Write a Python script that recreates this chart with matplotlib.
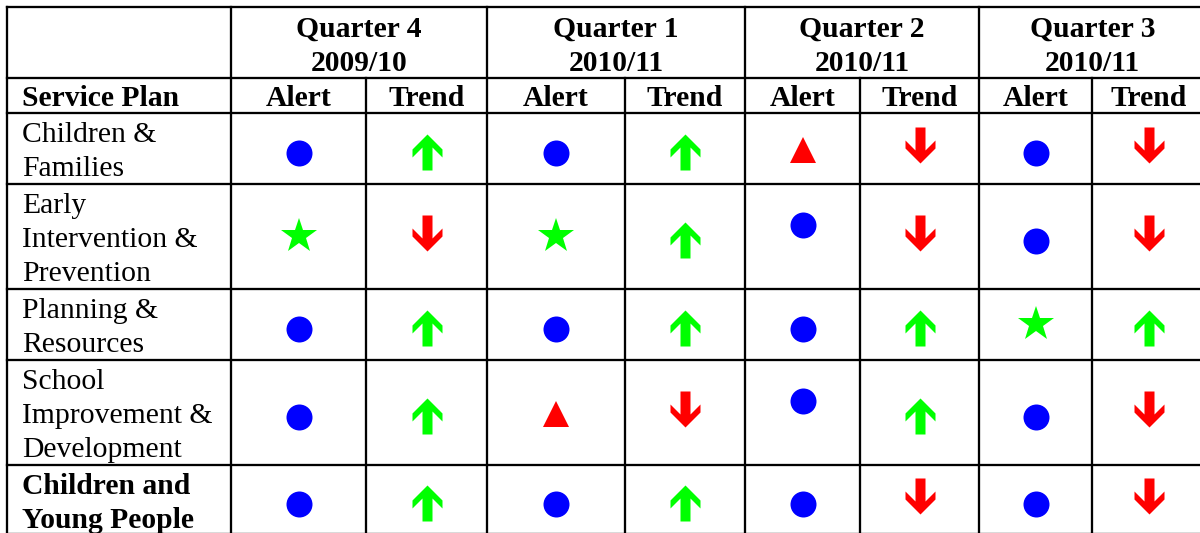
import matplotlib
matplotlib.use("Agg")
import matplotlib.pyplot as plt
from matplotlib.path import Path

# ---------------- data ----------------
services = ["Children &\nFamilies",
            "Early\nIntervention &\nPrevention",
            "Planning &\nResources",
            "School\nImprovement &\nDevelopment",
            "Children and\nYoung People"]
service_bold = [False, False, False, False, True]

quarters = ["Quarter 4\n2009/10", "Quarter 1\n2010/11",
            "Quarter 2\n2010/11", "Quarter 3\n2010/11"]

alert_q4_0910 = ["circle", "star", "circle", "circle", "circle"]
trend_q4_0910 = ["up", "down", "up", "up", "up"]
alert_q1_1011 = ["circle", "star", "circle", "triangle", "circle"]
trend_q1_1011 = ["up", "up", "up", "down", "up"]
alert_q2_1011 = ["triangle", "circle", "circle", "circle", "circle"]
trend_q2_1011 = ["down", "down", "up", "up", "down"]
alert_q3_1011 = ["circle", "circle", "star", "circle", "circle"]
trend_q3_1011 = ["down", "down", "up", "down", "down"]

alerts = [alert_q4_0910, alert_q1_1011, alert_q2_1011, alert_q3_1011]
trends = [trend_q4_0910, trend_q1_1011, trend_q2_1011, trend_q3_1011]

# ---------------- layout / style ----------------
W, H = 1200, 533
col_edges = [7, 231, 366, 487, 625, 745, 860, 979, 1092, 1206]
row_edges = [7, 78, 113, 184, 289, 360, 465, 534]
# cells whose symbol sits near the top of the cell (quarter index, row index)
top_aligned = {(2, 1), (2, 3)}

font = "Liberation Serif"
fs = 21.3
lw = 1.65

# arrow marker paths (pixel units, y up)
up_verts = [(0, 18), (15, 3), (15, -5), (5, 5), (5, -18), (-5, -18),
            (-5, 5), (-15, -5), (-15, 3), (0, 18)]
up_path = Path(up_verts, closed=True)
down_path = Path([(x, -y) for x, y in up_verts], closed=True)
px = 72 / 100.0  # points per pixel

sym_style = {
    "circle":   dict(marker="o", color="#0000FF", ms=26 * px, dy=4.5),
    "star":     dict(marker="*", color="#00FF00", ms=37 * px, dy=-0.5),
    "triangle": dict(marker="^", color="#FF0000", ms=27 * px, dy=1.0),
    "up":       dict(marker=up_path, color="#00FF00", ms=36 * px, dy=3.5),
    "down":     dict(marker=down_path, color="#FF0000", ms=36 * px, dy=-4.0),
}

fig = plt.figure(figsize=(12, 5.33), dpi=100)
ax = fig.add_axes([0, 0, 1, 1])
ax.set_xlim(0, W)
ax.set_ylim(H, 0)
ax.axis("off")

# grid lines
for y in row_edges:
    ax.plot([col_edges[0], col_edges[-1]], [y, y], color="black", lw=lw,
            solid_capstyle="projecting")
for i, x in enumerate(col_edges):
    y0 = row_edges[0] if i in (0, 1, 3, 5, 7, 9) else row_edges[1]
    ax.plot([x, x], [y0, row_edges[-1]], color="black", lw=lw,
            solid_capstyle="projecting")

# quarter headers
for q, label in enumerate(quarters):
    cx = (col_edges[1 + 2 * q] + col_edges[3 + 2 * q]) / 2
    for k, line in enumerate(label.split("\n")):
        ax.text(cx, row_edges[0] + 30 + 34 * k, line, ha="center", va="baseline",
                fontsize=fs, fontweight="bold", family=font)

# sub headers
ax.text(col_edges[0] + 15, row_edges[2] - 7, "Service Plan", ha="left",
        va="baseline", fontsize=fs, fontweight="bold", family=font)
for c in range(8):
    cx = (col_edges[1 + c] + col_edges[2 + c]) / 2
    ax.text(cx, row_edges[2] - 7, "Alert" if c % 2 == 0 else "Trend",
            ha="center", va="baseline", fontsize=fs, fontweight="bold", family=font)

# service labels
for r, label in enumerate(services):
    top = row_edges[2 + r]
    for k, line in enumerate(label.split("\n")):
        ax.text(col_edges[0] + 15, top + 29 + 34 * k, line, ha="left",
                va="baseline", fontsize=fs, family=font,
                fontweight="bold" if service_bold[r] else "normal")

# symbols
for q in range(4):
    for kind, series, c in (("alert", alerts[q], 2 * q), ("trend", trends[q], 2 * q + 1)):
        cx = (col_edges[1 + c] + col_edges[2 + c]) / 2
        for r, sym in enumerate(series):
            st = sym_style[sym]
            top, bot = row_edges[2 + r], row_edges[3 + r]
            if kind == "alert" and (q, r) in top_aligned:
                cy = top + 40.5
            else:
                cy = (top + bot) / 2 + st["dy"]
            ax.plot([cx], [cy], linestyle="none", marker=st["marker"],
                    markersize=st["ms"], markerfacecolor=st["color"],
                    markeredgewidth=0, color=st["color"])

fig.savefig("out.png", dpi=100)
